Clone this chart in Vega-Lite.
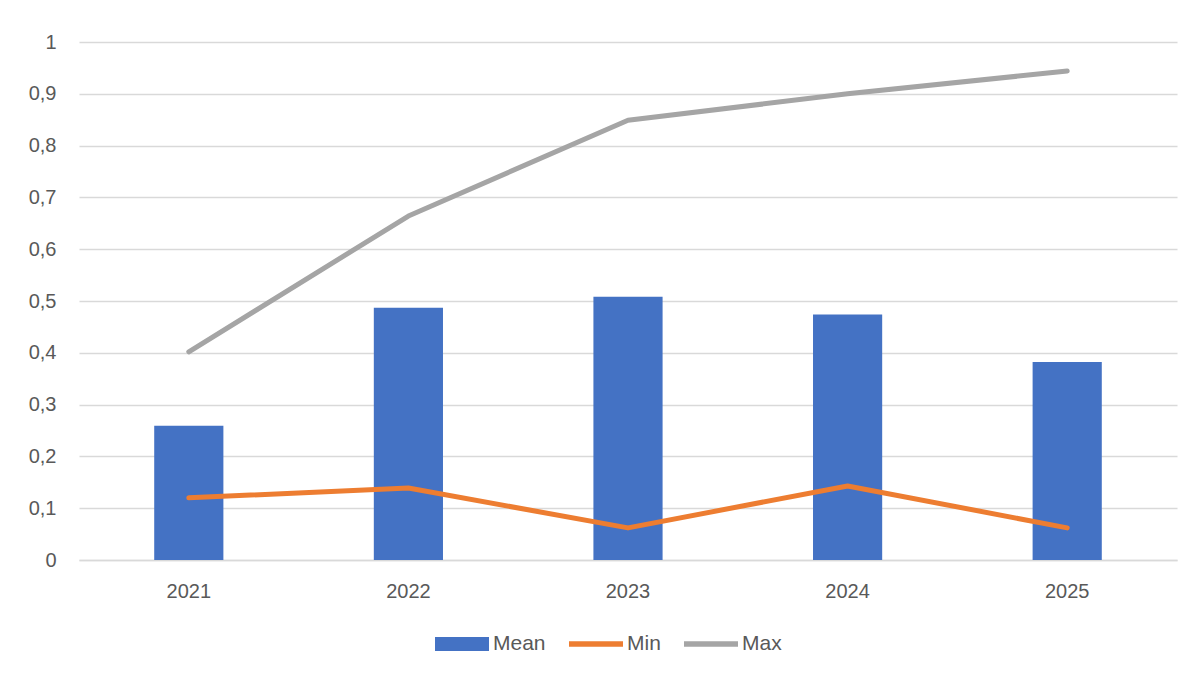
{
  "$schema": "https://vega.github.io/schema/vega-lite/v6.json",
  "width": 1098,
  "height": 518,
  "autosize": {"type": "none"},
  "padding": {"left": 79, "top": 42, "right": 16, "bottom": 115},
  "background": "white",
  "config": {
    "view": {"stroke": null},
    "font": "Liberation Sans"
  },
  "data": {
    "values": [
      {"year": "2021", "series": "Mean", "value": 0.259},
      {"year": "2022", "series": "Mean", "value": 0.487},
      {"year": "2023", "series": "Mean", "value": 0.508},
      {"year": "2024", "series": "Mean", "value": 0.474},
      {"year": "2025", "series": "Mean", "value": 0.382},
      {"year": "2021", "series": "Min", "value": 0.12},
      {"year": "2022", "series": "Min", "value": 0.139},
      {"year": "2023", "series": "Min", "value": 0.062},
      {"year": "2024", "series": "Min", "value": 0.143},
      {"year": "2025", "series": "Min", "value": 0.062},
      {"year": "2021", "series": "Max", "value": 0.402},
      {"year": "2022", "series": "Max", "value": 0.664},
      {"year": "2023", "series": "Max", "value": 0.849},
      {"year": "2024", "series": "Max", "value": 0.9},
      {"year": "2025", "series": "Max", "value": 0.944}
    ]
  },
  "encoding": {
    "x": {
      "field": "year", "type": "nominal",
      "scale": {"paddingInner": 0, "paddingOuter": 0},
      "axis": {"title": null, "labelAngle": 0, "ticks": false, "domain": true, "domainColor": "#d9d9d9", "domainWidth": 1.3, "labelPadding": 21, "grid": false,
        "labelFont": "Liberation Sans", "labelFontSize": 20, "labelColor": "#595959"}
    },
    "y": {
      "field": "value", "type": "quantitative",
      "scale": {"domain": [0, 1], "nice": false},
      "axis": {"title": null, "values": [0,0.1,0.2,0.3,0.4,0.5,0.6,0.7,0.8,0.9,1], "ticks": false, "domain": false, "labelPadding": 23,
        "labelOverlap": false, "format": "~g", "labelExpr": "replace(datum.label, '.', ',')",
        "labelFont": "Liberation Sans", "labelFontSize": 20, "labelColor": "#595959",
        "gridColor": "#d9d9d9", "gridWidth": 1.3}
    },
    "color": {
      "field": "series", "type": "nominal",
      "scale": {"domain": ["Mean", "Min", "Max"], "range": ["#4472C4", "#ED7D31", "#A5A5A5"]},
      "legend": {
        "title": null, "orient": "none", "direction": "horizontal", "legendX": 356, "legendY": 575, "padding": 0,
        "labelFont": "Liberation Sans", "labelFontSize": 21, "labelColor": "#595959",
        "symbolSize": 2916, "labelOffset": 4, "columnPadding": 23,
        "symbolType": "M-1,-0.26L1,-0.26L1,0.26L-1,0.26Z",
        "encode": {
          "symbols": {
            "update": {
              "shape": {"signal": "datum.value === 'Mean' ? 'M-1,-0.26L1,-0.26L1,0.26L-1,0.26Z' : 'M-1,-0.1L1,-0.1L1,0.1L-1,0.1Z'"},
              "fill": {"signal": "datum.value === 'Mean' ? '#4472C4' : datum.value === 'Min' ? '#ED7D31' : '#A5A5A5'"},
              "stroke": {"value": null},
              "strokeWidth": {"value": 0},
              "opacity": {"value": 1},
              "fillOpacity": {"value": 1}
            }
          }
        }
      }
    }
  },
  "layer": [
    {
      "transform": [{"filter": "datum.series === 'Mean'"}],
      "mark": {"type": "bar", "width": {"band": 0.315}}
    },
    {
      "transform": [{"filter": "datum.series !== 'Mean'"}],
      "mark": {"type": "line", "strokeWidth": 5, "strokeCap": "round", "strokeJoin": "round"}
    }
  ]
}
